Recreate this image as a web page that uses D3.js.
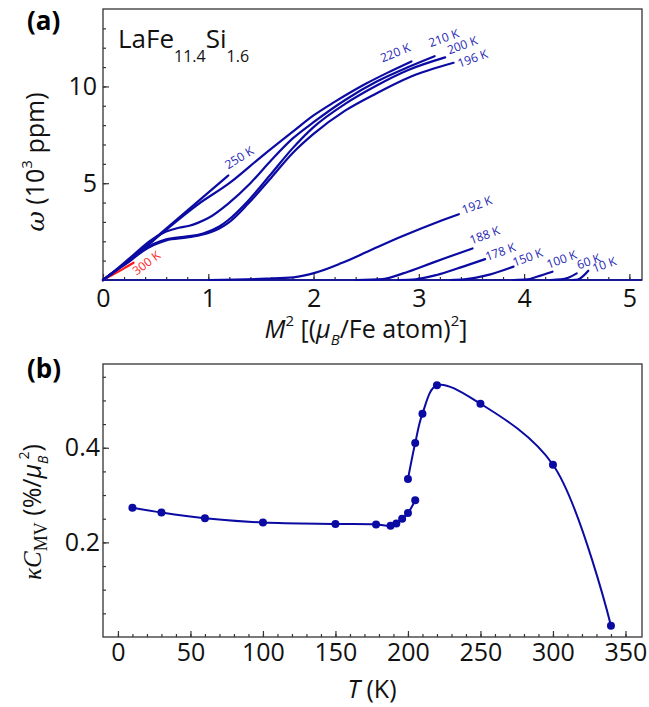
<!DOCTYPE html>
<html>
<head>
<meta charset="utf-8">
<script src="https://cdn.jsdelivr.net/npm/d3@7"></script>
<style>
body { margin:0; background:#fff; }
text { font-family:"Open Sans", sans-serif; }
</style>
</head>
<body>
<script>
// ---- panel (a): omega vs M^2, one pair of arrays per temperature ----
var m2_300 = [0, 0.1, 0.2, 0.29];
var w_300  = [0, 0.3, 0.6, 0.89];
var m2_250 = [0, 0.1, 0.3, 0.6, 0.9, 1.19];
var w_250  = [0, 0.4, 1.25, 2.65, 4.05, 5.4];
var m2_220 = [0, 0.1, 0.3, 0.6, 0.9, 1.2, 1.5, 1.8, 2.0, 2.2, 2.5, 2.7, 2.93];
var w_220  = [0, 0.4, 1.22, 2.6, 3.9, 5.0, 6.35, 7.65, 8.5, 9.2, 10.15, 10.7, 11.29];
var m2_210 = [0, 0.1, 0.29, 0.44, 0.6, 0.72, 0.82, 0.9, 1.0, 1.19, 1.4, 1.6, 1.8, 2.0, 2.3, 2.6, 2.9, 3.15];
var w_210  = [0, 0.42, 1.3, 2.0, 2.5, 2.7, 2.8, 2.95, 3.2, 3.95, 5.0, 6.2, 7.3, 8.15, 9.3, 10.25, 11.0, 11.56];
var m2_200 = [0, 0.1, 0.25, 0.38, 0.6, 0.8, 0.95, 1.1, 1.19, 1.38, 1.6, 1.8, 2.0, 2.3, 2.6, 2.9, 3.25];
var w_200  = [0, 0.42, 1.0, 1.55, 2.1, 2.25, 2.4, 2.75, 3.1, 4.1, 5.5, 6.8, 7.9, 9.1, 10.05, 10.85, 11.5];
var m2_196 = [0, 0.1, 0.25, 0.38, 0.6, 0.8, 0.95, 1.1, 1.19, 1.38, 1.6, 1.8, 2.0, 2.3, 2.6, 2.9, 3.33];
var w_196  = [0, 0.4, 0.95, 1.5, 2.05, 2.2, 2.35, 2.65, 2.95, 3.95, 5.3, 6.55, 7.55, 8.75, 9.65, 10.45, 11.22];
var m2_192 = [1.0, 1.55, 1.81, 2.02, 2.26, 2.51, 2.83, 3.21, 3.38];
var w_192  = [0, 0.07, 0.14, 0.38, 0.86, 1.46, 2.23, 3.06, 3.4];
var m2_188 = [2.4, 2.66, 2.85, 3.01, 3.26, 3.51];
var w_188  = [0, 0.05, 0.34, 0.65, 1.15, 1.63];
var m2_178 = [2.8, 2.97, 3.17, 3.39, 3.63];
var w_178  = [0, 0.04, 0.26, 0.64, 1.08];
var m2_150 = [3.3, 3.43, 3.68, 3.9];
var w_150  = [0, 0.03, 0.29, 0.69];
var m2_100 = [3.9, 4.03, 4.12, 4.27];
var w_100  = [0, 0.03, 0.17, 0.43];
var m2_60  = [4.25, 4.35, 4.42, 4.5];
var w_60   = [0, 0.03, 0.12, 0.34];
var m2_10  = [4.45, 4.51, 4.56, 4.61];
var w_10   = [0, 0.02, 0.2, 0.48];

var curveNames = ["300 K", "250 K", "220 K", "210 K", "200 K", "196 K", "192 K",
                  "188 K", "178 K", "150 K", "100 K", "60 K", "10 K"];

// ---- panel (b): kappa*C_MV vs T ----
var tLow  = [10, 30, 60, 100, 150, 178, 188, 192, 196, 200, 205];
var kcLow = [0.273, 0.263, 0.251, 0.242, 0.239, 0.238, 0.235, 0.240, 0.250, 0.262, 0.289];
var tHigh  = [200, 205, 210, 220, 250, 300, 340];
var kcHigh = [0.334, 0.41, 0.472, 0.532, 0.493, 0.364, 0.024];

var xTicksA = [0, 1, 2, 3, 4, 5];
var yTicksA = [5, 10];
var xTicksB = [0, 50, 100, 150, 200, 250, 300, 350];
var yTicksB = [0.2, 0.4];

var series = [
    {name: curveNames[0],  x: m2_300, y: w_300},
    {name: curveNames[1],  x: m2_250, y: w_250},
    {name: curveNames[2],  x: m2_220, y: w_220},
    {name: curveNames[3],  x: m2_210, y: w_210},
    {name: curveNames[4],  x: m2_200, y: w_200},
    {name: curveNames[5],  x: m2_196, y: w_196},
    {name: curveNames[6],  x: m2_192, y: w_192},
    {name: curveNames[7],  x: m2_188, y: w_188},
    {name: curveNames[8],  x: m2_178, y: w_178},
    {name: curveNames[9],  x: m2_150, y: w_150},
    {name: curveNames[10], x: m2_100, y: w_100},
    {name: curveNames[11], x: m2_60,  y: w_60},
    {name: curveNames[12], x: m2_10,  y: w_10}
];
// label placement relative to curve end (px) and rotation
var labelLayout = [
    [3, 13, -37], [0, -6, -32], [-29, 1, -22], [-4, -9, -20], [4, -3, -20], [6, 5, -20],
    [5, 0, -20], [-1, -4, -20], [2, 2, -20], [1, 0, -20], [-4, -3, -20], [2, -4, -20], [6, 2, -20]
];

var blue = "#0b0ba3";
var labelBlue = "#2626b4";

var svg = d3.select("body").append("svg").attr("width", 649).attr("height", 707);

// ================= panel (a) =================
var pa = {left: 103, right: 642, top: 9, bottom: 280};
var xA = d3.scaleLinear().domain([0, 5.12]).range([pa.left, pa.right]);
var yA = d3.scaleLinear().domain([0, 14]).range([pa.bottom, pa.top]);

var gA = svg.append("g");

gA.append("g").attr("transform", "translate(0," + pa.bottom + ")")
    .call(d3.axisBottom(xA).tickValues(d3.range(0, 5.01, 0.2)).tickSize(-3).tickFormat(""))
    .call(function(g){ g.select(".domain").remove(); });
gA.append("g").attr("class", "tk").attr("transform", "translate(0," + pa.bottom + ")")
    .call(d3.axisBottom(xA).tickValues(xTicksA).tickSize(-6).tickPadding(9).tickFormat(d3.format("d")))
    .call(function(g){ g.select(".domain").remove(); });
gA.append("g").attr("transform", "translate(" + pa.left + ",0)")
    .call(d3.axisLeft(yA).tickValues(d3.range(1, 14, 1)).tickSize(-3).tickFormat(""))
    .call(function(g){ g.select(".domain").remove(); });
gA.append("g").attr("class", "tk").attr("transform", "translate(" + pa.left + ",0)")
    .call(d3.axisLeft(yA).tickValues(yTicksA).tickSize(-6).tickPadding(6).tickFormat(d3.format("d")))
    .call(function(g){ g.select(".domain").remove(); });

gA.append("rect").attr("x", pa.left).attr("y", pa.top)
    .attr("width", pa.right - pa.left).attr("height", pa.bottom - pa.top)
    .attr("fill", "none").attr("stroke", "#333").attr("stroke-width", 1.3);
gA.append("line").attr("x1", pa.left).attr("x2", pa.right).attr("y1", pa.bottom).attr("y2", pa.bottom)
    .attr("stroke", "#1a1a90").attr("stroke-width", 2);

var lineA = d3.line().curve(d3.curveMonotoneX)
    .x(function(d){ return xA(d[0]); })
    .y(function(d){ return yA(d[1]); });

series.forEach(function(s, i){
    var pts = s.x.map(function(v, j){ return [v, s.y[j]]; });
    var col = i == 0 ? "#ff1a1a" : blue;
    gA.append("path").attr("d", lineA(pts)).attr("fill", "none")
        .attr("stroke", col).attr("stroke-width", 2.2).attr("stroke-linecap", "round");
    var end = pts[pts.length - 1];
    var lay = labelLayout[i];
    gA.append("text")
        .attr("transform", "translate(" + (xA(end[0]) + lay[0]) + "," + (yA(end[1]) + lay[1]) + ") rotate(" + lay[2] + ")")
        .attr("font-size", 12)
        .attr("fill", i == 0 ? "#ff2a2a" : labelBlue)
        .text(s.name);
});

// compound name
var nm = gA.append("text").attr("x", 118).attr("y", 48).attr("font-size", 26).attr("fill", "#111");
nm.append("tspan").text("LaFe");
nm.append("tspan").attr("font-size", 16).attr("dy", 14).text("11.4");
nm.append("tspan").attr("dy", -14).text("Si");
nm.append("tspan").attr("font-size", 16).attr("dy", 14).text("1.6");

// axis titles (a)
var yt = gA.append("text").attr("transform", "translate(44,162) rotate(-90)")
    .attr("text-anchor", "middle").attr("font-size", 25).attr("fill", "#111");
yt.append("tspan").attr("font-style", "italic").attr("font-family", "DejaVu Serif").text("ω");
yt.append("tspan").text("  (10");
yt.append("tspan").attr("font-size", 15).attr("dy", -12).text("3");
yt.append("tspan").attr("dy", 12).text(" ppm)");

var xt = gA.append("text").attr("x", 366).attr("y", 338)
    .attr("text-anchor", "middle").attr("font-size", 25).attr("fill", "#111");
xt.append("tspan").attr("font-style", "italic").text("M");
xt.append("tspan").attr("font-size", 15).attr("dy", -12).text("2");
xt.append("tspan").attr("dy", 12).text(" [(");
xt.append("tspan").attr("font-style", "italic").text("μ");
xt.append("tspan").attr("font-style", "italic").attr("font-size", 15).attr("dy", 7).text("B");
xt.append("tspan").attr("dy", -7).text("/Fe atom)");
xt.append("tspan").attr("font-size", 15).attr("dy", -12).text("2");
xt.append("tspan").attr("dy", 12).text("]");

// ================= panel (b) =================
var pb = {left: 103, right: 642, top: 364, bottom: 637};
var xB = d3.scaleLinear().domain([-10.3, 361.4]).range([pb.left, pb.right]);
var yB = d3.scaleLinear().domain([0, 0.577]).range([pb.bottom, pb.top]);

var gB = svg.append("g");

gB.append("g").attr("transform", "translate(0," + pb.bottom + ")")
    .call(d3.axisBottom(xB).tickValues(d3.range(0, 351, 10)).tickSize(-3).tickFormat(""))
    .call(function(g){ g.select(".domain").remove(); });
gB.append("g").attr("class", "tk").attr("transform", "translate(0," + pb.bottom + ")")
    .call(d3.axisBottom(xB).tickValues(xTicksB).tickSize(-6).tickPadding(6).tickFormat(d3.format("d")))
    .call(function(g){ g.select(".domain").remove(); });
gB.append("g").attr("transform", "translate(" + pb.left + ",0)")
    .call(d3.axisLeft(yB).tickValues(d3.range(0.05, 0.576, 0.05)).tickSize(-3).tickFormat(""))
    .call(function(g){ g.select(".domain").remove(); });
gB.append("g").attr("class", "tk").attr("transform", "translate(" + pb.left + ",0)")
    .call(d3.axisLeft(yB).tickValues(yTicksB).tickSize(-6).tickPadding(3).tickFormat(d3.format(".1f")))
    .call(function(g){ g.select(".domain").remove(); });

gB.append("rect").attr("x", pb.left).attr("y", pb.top)
    .attr("width", pb.right - pb.left).attr("height", pb.bottom - pb.top)
    .attr("fill", "none").attr("stroke", "#333").attr("stroke-width", 1.3);

var lineB = d3.line().curve(d3.curveCatmullRom)
    .x(function(d){ return xB(d[0]); })
    .y(function(d){ return yB(d[1]); });

var lowPts = tLow.map(function(t, j){ return [t, kcLow[j]]; });
var highPts = tHigh.map(function(t, j){ return [t, kcHigh[j]]; });

[lowPts, highPts].forEach(function(pts){
    gB.append("path").attr("d", lineB(pts)).attr("fill", "none")
        .attr("stroke", blue).attr("stroke-width", 2);
    gB.selectAll(null).data(pts).enter().append("circle")
        .attr("cx", function(d){ return xB(d[0]); })
        .attr("cy", function(d){ return yB(d[1]); })
        .attr("r", 4).attr("fill", blue);
});

// axis titles (b)
var yb = gB.append("text").attr("transform", "translate(41,512) rotate(-90)")
    .attr("text-anchor", "middle").attr("font-size", 25).attr("fill", "#111");
yb.append("tspan").attr("font-style", "italic").attr("font-family", "Liberation Serif").text("κC");
yb.append("tspan").attr("font-family", "Liberation Serif").attr("font-size", 18).attr("dy", 6).text("MV");
yb.append("tspan").attr("dy", -6).text(" (%/");
yb.append("tspan").attr("font-style", "italic").text("μ");
yb.append("tspan").attr("font-style", "italic").attr("font-size", 14).attr("dy", 7).text("B");
yb.append("tspan").attr("font-size", 14).attr("dx", -4).attr("dy", -19).text("2");
yb.append("tspan").attr("dy", 12).text(")");

var xb = gB.append("text").attr("x", 372).attr("y", 698)
    .attr("text-anchor", "middle").attr("font-size", 25).attr("fill", "#111");
xb.append("tspan").attr("font-style", "italic").text("T");
xb.append("tspan").text(" (K)");

// panel letters
svg.append("text").attr("x", 27).attr("y", 30).attr("font-family", "Liberation Sans")
    .attr("font-weight", "bold").attr("font-size", 26).text("(a)");
svg.append("text").attr("x", 27).attr("y", 378).attr("font-family", "Liberation Sans")
    .attr("font-weight", "bold").attr("font-size", 26).text("(b)");

// tick styling
svg.selectAll(".tick line").attr("stroke", "#333").attr("stroke-width", 1.2);
svg.selectAll(".tk text").attr("font-size", 25).attr("fill", "#111")
    .attr("font-family", "Open Sans");
</script>
</body>
</html>
